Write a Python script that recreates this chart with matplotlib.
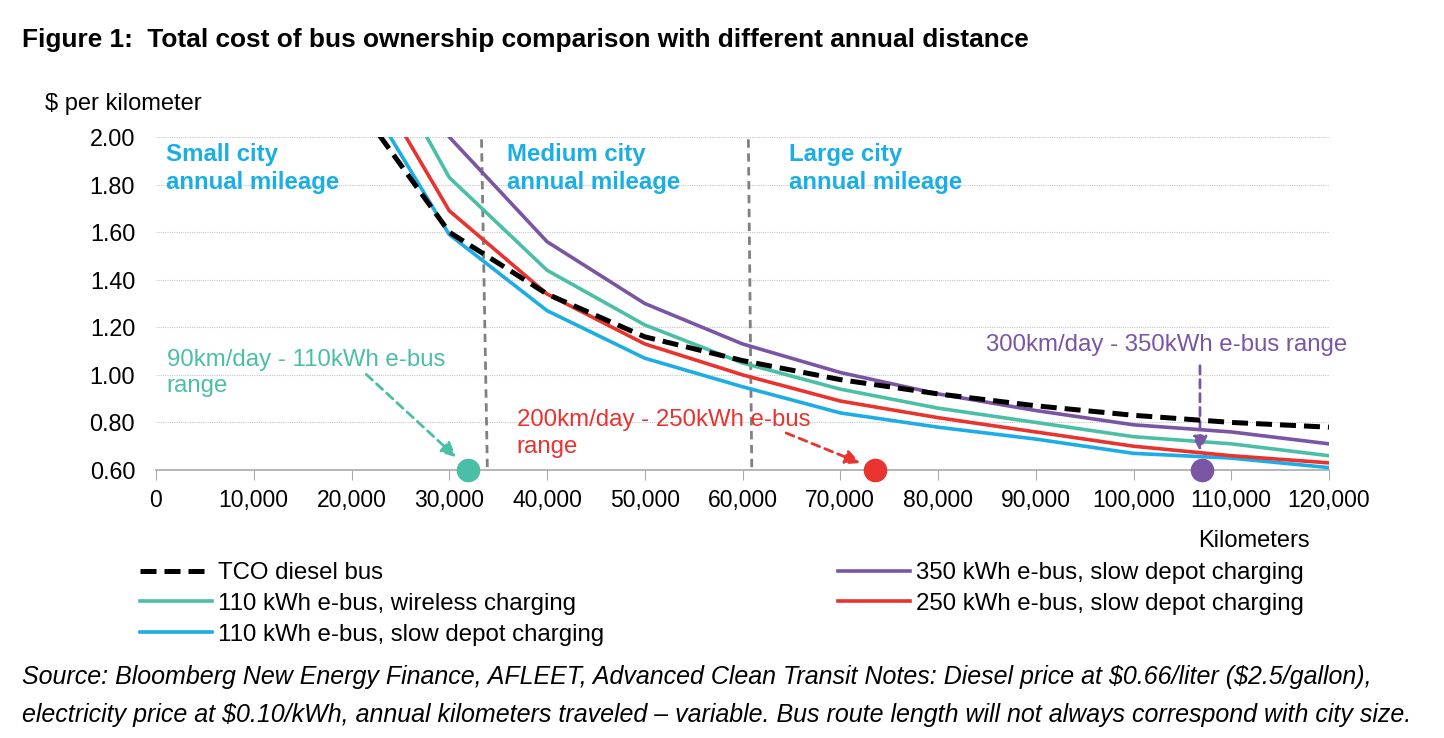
import matplotlib
matplotlib.use('Agg')
import matplotlib.pyplot as plt
from matplotlib.lines import Line2D
from matplotlib.ticker import FuncFormatter

plt.rcParams['font.family'] = ['Liberation Sans', 'DejaVu Sans']

# data ($ per km at each annual distance)
km = [20000, 30000, 40000, 50000, 60000, 70000, 80000, 90000, 100000, 110000, 120000]
diesel = [2.17, 1.60, 1.34, 1.16, 1.06, 0.98, 0.92, 0.87, 0.83, 0.80, 0.78]
wireless_110 = [2.57, 1.83, 1.44, 1.21, 1.05, 0.94, 0.86, 0.80, 0.74, 0.71, 0.66]
depot_110 = [2.27, 1.59, 1.27, 1.07, 0.95, 0.84, 0.78, 0.73, 0.67, 0.65, 0.61]
depot_350 = [2.90, 2.00, 1.56, 1.30, 1.13, 1.01, 0.92, 0.85, 0.79, 0.76, 0.71]
depot_250 = [2.39, 1.69, 1.34, 1.13, 1.00, 0.89, 0.82, 0.76, 0.70, 0.66, 0.63]

# city-size boundaries (slightly slanted in the original: top, bottom)
small_medium = [33300, 33900]
medium_large = [60600, 60950]

# range markers on the x axis
range_km = [31900, 73600, 107000]

BLACK = '#000000'
TEAL = '#4BBFA6'
BLUE = '#1DADE6'
PURPLE = '#7A55A4'
RED = '#E8332E'
CITY = '#1AAEE4'

W, H = 1444, 738


def fy(py):
    # figure fraction from a pixel row
    return 1 - py / H


fig = plt.figure(figsize=(W / 100, H / 100), dpi=100)
ax = fig.add_axes([156 / W, fy(470), (1329 - 156) / W, (470 - 137) / H])

ax.plot(km, depot_110, color=BLUE, lw=2.6, zorder=3)
ax.plot(km, depot_250, color=RED, lw=2.6, zorder=3)
ax.plot(km, wireless_110, color=TEAL, lw=2.6, zorder=3)
ax.plot(km, depot_350, color=PURPLE, lw=2.6, zorder=3)
ax.plot(km, diesel, color=BLACK, lw=3.6, dashes=(3.2, 1.6), zorder=4)

ax.plot(small_medium, [1.99, 0.6], color='#808080', lw=2, dashes=(3, 2), zorder=2)
ax.plot(medium_large, [1.99, 0.6], color='#808080', lw=2, dashes=(3, 2), zorder=2)

ax.set_xlim(0, 120000)
ax.set_ylim(0.6, 2.0)
ax.set_yticks([0.6 + 0.2 * i for i in range(8)])
ax.set_xticks(range(0, 120001, 10000))
ax.yaxis.set_major_formatter(FuncFormatter(lambda v, p: f'{v:.2f}'))
ax.xaxis.set_major_formatter(FuncFormatter(lambda v, p: f'{int(v):,}'))
ax.tick_params(axis='y', length=0, labelsize=16.8, pad=15)
ax.tick_params(axis='x', length=7, color='#aaaaaa', labelsize=16.5, pad=7, direction='out')
ax.grid(axis='y', color='#c8c8c8', ls=(0, (1, 1)), lw=0.8)
for s in ['top', 'right', 'left']:
    ax.spines[s].set_visible(False)
ax.spines['bottom'].set_color('#aaaaaa')
ax.spines['bottom'].set_linewidth(1.2)

# city labels, one line at a time
city = dict(color=CITY, fontsize=17.3, fontweight='bold', va='baseline')
for x0, name in [(1000, 'Small city'), (35900, 'Medium city'), (64800, 'Large city')]:
    ax.text(x0, 1.899, name, **city)
    ax.text(x0, 1.782, 'annual mileage', **city)

# range annotations
ax.text(1100, 1.037, '90km/day - 110kWh e-bus', color=TEAL, fontsize=17.3, va='baseline')
ax.text(1100, 0.927, 'range', color=TEAL, fontsize=17.3, va='baseline')
ax.text(36900, 0.786, '200km/day - 250kWh e-bus', color=RED, fontsize=17.3, va='baseline')
ax.text(36900, 0.673, 'range', color=RED, fontsize=17.3, va='baseline')
ax.text(84900, 1.101, '300km/day - 350kWh e-bus range', color=PURPLE, fontsize=17.3,
        va='baseline')

arrow_style = dict(arrowstyle='-|>', lw=2, linestyle=(0, (3, 2)), mutation_scale=22)
ax.annotate('', xy=(30900, 0.646), xytext=(21300, 1.01),
            arrowprops=dict(color=TEAL, **arrow_style))
ax.annotate('', xy=(72300, 0.625), xytext=(64200, 0.76),
            arrowprops=dict(color=RED, **arrow_style))
ax.annotate('', xy=(106800, 0.667), xytext=(106800, 1.05),
            arrowprops=dict(color=PURPLE, **arrow_style))

for xk, c in zip(range_km, [TEAL, RED, PURPLE]):
    ax.plot(xk, 0.6, 'o', color=c, ms=16, clip_on=False, zorder=6)

fig.text(22 / W, fy(47),
         'Figure 1:  Total cost of bus ownership comparison with different annual distance',
         fontsize=18.9, fontweight='bold', va='baseline')
fig.text(45 / W, fy(110), '$ per kilometer', fontsize=17, va='baseline')
fig.text(1310 / W, fy(547), 'Kilometers', fontsize=17, va='baseline', ha='right')

h_diesel = Line2D([], [], color=BLACK, lw=3.6, dashes=(3.2, 1.6))
h_w110 = Line2D([], [], color=TEAL, lw=2.6)
h_d110 = Line2D([], [], color=BLUE, lw=2.6)
h_d350 = Line2D([], [], color=PURPLE, lw=2.6)
h_d250 = Line2D([], [], color=RED, lw=2.6)

leg_kw = dict(frameon=False, fontsize=17.3, handlelength=3.0, handletextpad=0.25,
              labelspacing=0.37, borderaxespad=0, borderpad=0)
fig.legend([h_diesel, h_w110, h_d110],
           ['TCO diesel bus', '110 kWh e-bus, wireless charging',
            '110 kWh e-bus, slow depot charging'],
           loc='upper left', bbox_to_anchor=(140 / W, fy(562)), **leg_kw)
fig.legend([h_d350, h_d250],
           ['350 kWh e-bus, slow depot charging', '250 kWh e-bus, slow depot charging'],
           loc='upper left', bbox_to_anchor=(838 / W, fy(562)), **leg_kw)

fig.text(22 / W, fy(684),
         'Source: Bloomberg New Energy Finance, AFLEET, Advanced Clean Transit Notes: '
         'Diesel price at \\$0.66/liter (\\$2.5/gallon),',
         fontsize=18, style='italic', va='baseline')
fig.text(22 / W, fy(722),
         'electricity price at \\$0.10/kWh, annual kilometers traveled \u2013 variable. '
         'Bus route length will not always correspond with city size.',
         fontsize=18, style='italic', va='baseline')

fig.savefig('out.png', dpi=100)
